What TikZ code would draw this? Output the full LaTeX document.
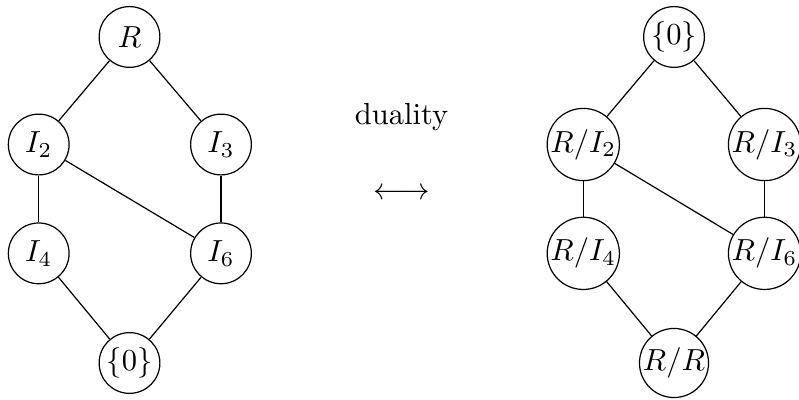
\documentclass[tikz,border=0pt]{standalone}
\usepackage{amsfonts, amssymb, amsmath}
\usepackage{tikz}

\tikzset{latnode/.style={circle, draw, inner sep=0pt, minimum size=0.7cm}}

\begin{document}
\begin{tikzpicture}[scale=1]
    \useasboundingbox (0,0) rectangle (9.205,4.608);
    % ideal lattice
    \node[latnode] (R) at (1.492, 4.182) {$R$};
    \node[latnode] (I2) at (0.446, 2.943) {$I_2$};
    \node[latnode] (I3) at (2.546, 2.943) {$I_3$};
    \node[latnode] (I4) at (0.446, 1.689) {$I_4$};
    \node[latnode] (I6) at (2.546, 1.689) {$I_6$};
    \node[latnode] (Z) at (1.492, 0.426) {$\{0\}$};
    \draw (R) -- (I2);
    \draw (R) -- (I3);
    \draw (I2) -- (I4);
    \draw (I2) -- (I6);
    \draw (I3) -- (I6);
    \draw (I4) -- (Z);
    \draw (I6) -- (Z);
    % quotient lattice
    \node[latnode] (qZ) at (7.765, 4.182) {$\{0\}$};
    \node[latnode] (qI2) at (6.720, 2.943) {$R/I_2$};
    \node[latnode] (qI3) at (8.808, 2.943) {$R/I_3$};
    \node[latnode] (qI4) at (6.720, 1.689) {$R/I_4$};
    \node[latnode] (qI6) at (8.808, 1.689) {$R/I_6$};
    \node[latnode] (qR) at (7.765, 0.426) {$R/R$};
    \draw (qZ) -- (qI2);
    \draw (qZ) -- (qI3);
    \draw (qI2) -- (qI4);
    \draw (qI2) -- (qI6);
    \draw (qI3) -- (qI6);
    \draw (qI4) -- (qR);
    \draw (qI6) -- (qR);
    % middle
    \node (dual) at (4.626, 3.26) {duality};
    \node (arr) at (4.626, 2.37) {$\longleftrightarrow$};
\end{tikzpicture}
\end{document}
